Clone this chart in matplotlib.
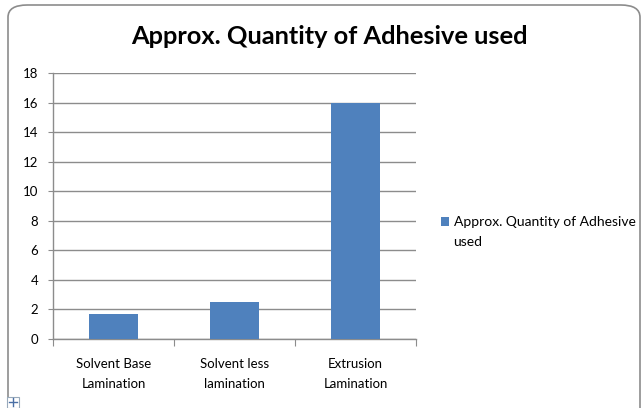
import matplotlib
matplotlib.use('Agg')
import matplotlib.pyplot as plt
from matplotlib.patches import FancyBboxPatch, Rectangle
from matplotlib.lines import Line2D
import numpy as np

# ============ DATA ============
categories = ['Solvent Base\nLamination', 'Solvent less\nlamination', 'Extrusion\nLamination']
values = [1.7, 2.5, 16]
series_line1 = 'Approx. Quantity of Adhesive'
series_line2 = 'used'
title = 'Approx. Quantity of Adhesive used'
yticks = np.arange(0, 19, 2)

plt.rcParams['font.family'] = ['Lato', 'DejaVu Sans']
W, H = 644, 408
fig = plt.figure(figsize=(W/100, H/100), dpi=100)

def fx(px): return px / W
def fy(py): return 1 - py / H

# chart frame (rounded, Excel-like)
frame = FancyBboxPatch((fx(8), fy(430)), fx(632), (430-5)/H,
                       boxstyle='round,pad=0,rounding_size=0.03',
                       transform=fig.transFigure, fill=False,
                       edgecolor='#8c8c8c', linewidth=1.2)
fig.patches.append(frame)

ax = fig.add_axes([fx(53), fy(339), fx(416-53), (339-73)/H])
x = np.arange(len(categories))
ax.bar(x, values, width=0.4, color='#4f81bd', zorder=3, label=series_line1)
ax.set_xlim(-0.5, len(categories)-0.5)
ax.set_ylim(0, 18)
ax.set_yticks(yticks)
ax.set_yticklabels([str(v) for v in yticks], fontsize=9.5)
ax.yaxis.grid(True, color='#8c8c8c', linewidth=1.0, zorder=0)
ax.tick_params(axis='y', length=3.5, color='#8c8c8c', pad=7)

# category boundary ticks
ax.set_xticks(np.arange(-0.5, len(categories), 1.0))
ax.set_xticklabels([])
ax.set_xticks(x, minor=True)
ax.set_xticklabels(categories, minor=True, fontsize=9.5, linespacing=1.75)
ax.tick_params(axis='x', which='major', length=5, color='#8c8c8c')
ax.tick_params(axis='x', which='minor', length=0, pad=14)

for s in ['top', 'right']:
    ax.spines[s].set_visible(False)
for s in ['left', 'bottom']:
    ax.spines[s].set_color('#8c8c8c')
    ax.spines[s].set_linewidth(1.0)

fig.text(fx(329), fy(37), title, fontsize=18.3, fontweight='bold',
         ha='center', va='center')

pos = ax.get_position()
leg = ax.legend(loc='center left',
                bbox_to_anchor=((fx(441) - pos.x0) / pos.width, (fy(222) - pos.y0) / pos.height),
                frameon=False, fontsize=10, handlelength=0.6, handleheight=0.6,
                handletextpad=0.3, borderaxespad=0, borderpad=0)

# second line of the legend label, aligned with the legend text
fig.canvas.draw()
bb = leg.get_texts()[0].get_window_extent()
fig.text(bb.x0 / W, fy(242), series_line2, fontsize=10, ha='left', va='center')

# move handle icon at bottom-left
fig.patches.append(Rectangle((fx(7), fy(408)), fx(12), 11/H, transform=fig.transFigure,
                             facecolor='white', edgecolor='#9ab', linewidth=0.8))
fig.lines.append(Line2D([fx(9), fx(17)], [fy(402), fy(402)], transform=fig.transFigure, color='#4a6fa5', linewidth=1))
fig.lines.append(Line2D([fx(13), fx(13)], [fy(398), fy(406)], transform=fig.transFigure, color='#4a6fa5', linewidth=1))

fig.savefig('out.png', dpi=100)
